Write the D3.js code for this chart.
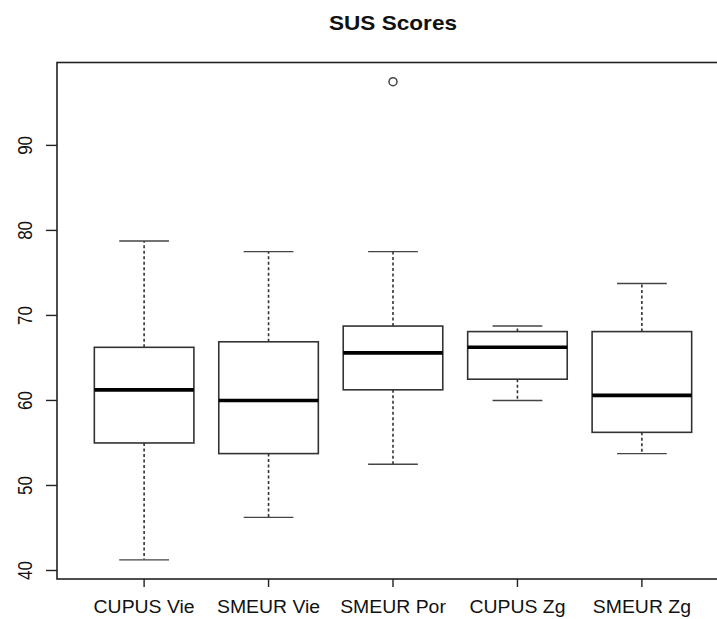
<!DOCTYPE html>
<meta charset="utf-8">
<style>
    body {
        margin: 0;
        background: #fff;
        overflow: hidden;
    }
    svg {
        display: block;
    }
    svg text {
        font-family: "Liberation Sans", Arial, sans-serif;
        fill: #111;
    }
</style>

<body>
    <script src="https://cdn.jsdelivr.net/npm/d3@7"></script>
    <script>
        // values
        var categories = ["CUPUS Vie", "SMEUR Vie", "SMEUR Por", "CUPUS Zg", "SMEUR Zg"];
        var whiskerLow = [41.25, 46.25, 52.5, 60, 53.75];
        var q1 = [55, 53.75, 61.25, 62.5, 56.25];
        var median = [61.25, 60, 65.6, 66.25, 60.6];
        var q3 = [66.25, 66.9, 68.75, 68.1, 68.1];
        var whiskerHigh = [78.75, 77.5, 77.5, 68.75, 73.75];
        var outliers = [[], [], [97.5], [], []];
        var yTicks = [40, 50, 60, 70, 80, 90];

        var width = 717,
            height = 619,
            plotLeft = 57,
            plotRight = 729,
            plotTop = 62.5,
            plotBottom = 579;

        var svg = d3.select("body").append("svg")
            .attr("width", width)
            .attr("height", height);

        // R style ranges: 0.5..n+0.5 padded by 4%
        var x = d3.scaleLinear()
            .domain([0.3, categories.length + 0.7])
            .range([plotLeft, plotRight]);

        var y = d3.scaleLinear()
            .domain([39, 99.75])
            .range([plotBottom, plotTop]);

        var boxHalf = (x(1.4) - x(1)),
            capHalf = boxHalf / 2;

        var data = categories.map(function (c, i) {
            return {
                name: c, pos: i + 1,
                lo: whiskerLow[i], q1: q1[i], med: median[i], q3: q3[i], hi: whiskerHigh[i],
                out: outliers[i]
            };
        });

        var g = svg.selectAll("g.box").data(data).enter().append("g").attr("class", "box");

        // whiskers
        [["q3", "hi"], ["q1", "lo"]].forEach(function (k) {
            g.append("line")
                .attr("x1", function (d) { return x(d.pos); })
                .attr("x2", function (d) { return x(d.pos); })
                .attr("y1", function (d) { return y(d[k[0]]); })
                .attr("y2", function (d) { return y(d[k[1]]); })
                .attr("stroke", "#333").attr("stroke-width", 1.6).attr("stroke-dasharray", "3,2.5");
        });

        // staples
        ["hi", "lo"].forEach(function (k) {
            g.append("line")
                .attr("x1", function (d) { return x(d.pos) - capHalf; })
                .attr("x2", function (d) { return x(d.pos) + capHalf; })
                .attr("y1", function (d) { return y(d[k]); })
                .attr("y2", function (d) { return y(d[k]); })
                .attr("stroke", "#444").attr("stroke-width", 1.4);
        });

        // boxes
        g.append("rect")
            .attr("x", function (d) { return x(d.pos) - boxHalf; })
            .attr("width", boxHalf * 2)
            .attr("y", function (d) { return y(d.q3); })
            .attr("height", function (d) { return y(d.q1) - y(d.q3); })
            .attr("fill", "#fff")
            .attr("stroke", "#333").attr("stroke-width", 1.6);

        // medians
        g.append("line")
            .attr("x1", function (d) { return x(d.pos) - boxHalf; })
            .attr("x2", function (d) { return x(d.pos) + boxHalf; })
            .attr("y1", function (d) { return y(d.med); })
            .attr("y2", function (d) { return y(d.med); })
            .attr("stroke", "#000").attr("stroke-width", 3.6);

        // outliers
        g.selectAll("circle")
            .data(function (d) { return d.out.map(function (v) { return { pos: d.pos, v: v }; }); })
            .enter().append("circle")
            .attr("cx", function (d) { return x(d.pos); })
            .attr("cy", function (d) { return y(d.v); })
            .attr("r", 4)
            .attr("fill", "none")
            .attr("stroke", "#444").attr("stroke-width", 1.5);

        // plot frame
        svg.append("rect")
            .attr("x", plotLeft).attr("y", plotTop)
            .attr("width", plotRight - plotLeft).attr("height", plotBottom - plotTop)
            .attr("fill", "none").attr("stroke", "#222").attr("stroke-width", 1.6);

        // y axis
        svg.selectAll("line.ytick").data(yTicks).enter().append("line")
            .attr("class", "ytick")
            .attr("x1", plotLeft - 11).attr("x2", plotLeft)
            .attr("y1", function (d) { return y(d); })
            .attr("y2", function (d) { return y(d); })
            .attr("stroke", "#222").attr("stroke-width", 1.4);

        svg.selectAll("text.ylab").data(yTicks).enter().append("text")
            .attr("class", "ylab")
            .attr("transform", function (d) {
                return "translate(31.5," + y(d) + ") rotate(-90) scale(1,1.2)";
            })
            .attr("text-anchor", "middle")
            .style("font-size", "17px")
            .text(function (d) { return d; });

        // x axis
        svg.selectAll("line.xtick").data(data).enter().append("line")
            .attr("class", "xtick")
            .attr("x1", function (d) { return x(d.pos); })
            .attr("x2", function (d) { return x(d.pos); })
            .attr("y1", plotBottom).attr("y2", plotBottom + 8)
            .attr("stroke", "#222").attr("stroke-width", 1.4);

        svg.selectAll("text.xlab").data(data).enter().append("text")
            .attr("class", "xlab")
            .attr("transform", function (d) {
                return "translate(" + x(d.pos) + ",613) scale(1.05,1)";
            })
            .attr("text-anchor", "middle")
            .style("font-size", "18.5px")
            .text(function (d) { return d.name; });

        // title
        svg.append("text")
            .attr("transform", "translate(" + (plotLeft + plotRight) / 2 + ",29.5) scale(1.13,1)")
            .attr("text-anchor", "middle")
            .style("font-size", "20px")
            .style("font-weight", "bold")
            .text("SUS Scores");
    </script>
</body>
